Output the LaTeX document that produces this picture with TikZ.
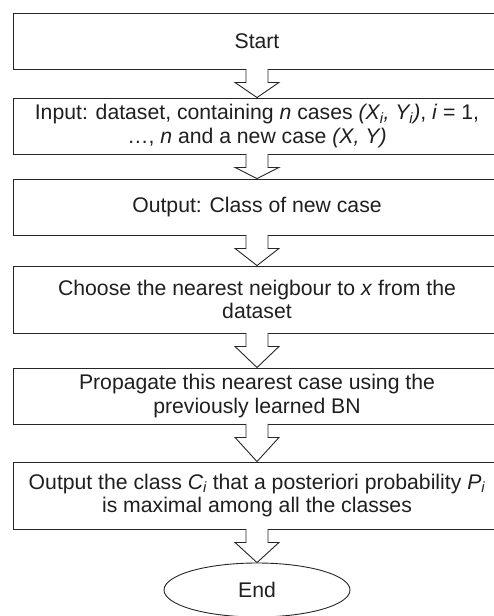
\documentclass[tikz,border=0pt]{standalone}
\usepackage{fontspec}
\setmainfont{Liberation Sans}
\usetikzlibrary{shapes.geometric,calc}
\tikzset{
  stepbox/.style={draw=black!85, line width=0.9pt, fill=white, rectangle,
    minimum width=488pt, inner sep=0pt, align=center, text=black!88,
    font=\fontsize{21.2}{23.5}\selectfont},
  endnode/.style={draw=black!85, line width=0.9pt, fill=white, ellipse,
    minimum width=186pt, minimum height=54pt, inner sep=0pt, text=black!88,
    font=\fontsize{21.2}{23.5}\selectfont},
  blockarrow/.style={draw=black!85, line width=0.9pt, fill=white, line join=miter}
}
\newcommand\flowarrow[2]{%
  \path[blockarrow] let \p1=(#1.south), \p2=(#2.north) in
    (\x1-11pt,\y1+0.6pt) -- (\x1-11pt,\y1-13pt) -- (\x1-22pt,\y1-13pt)
    -- (\x2,\y2) -- (\x1+22pt,\y1-13pt) -- (\x1+11pt,\y1-13pt) -- (\x1+11pt,\y1+0.6pt);}
\begin{document}
\begin{tikzpicture}[x=1pt,y=-1pt]
\useasboundingbox (0,0) rectangle (494,616);
\clip (0,0) rectangle (494,616);
\fill[white] (0,0) rectangle (494,616);
\node[stepbox, minimum height=56pt] (start) at (257,41) {Start};
\node[stepbox, minimum height=56pt] (input) at (257,126)
  {Input: dataset, containing \textit{n} cases \textit{(X\textsubscript{i}, Y\textsubscript{i})}, \textit{i} = 1,\\
   \dots, \textit{n} and a new case \textit{(X, Y)}};
\node[stepbox, minimum height=56pt] (output) at (257,207) {Output: Class of new case};
\node[stepbox, minimum height=67pt] (choose) at (257,299.5)
  {Choose the nearest neigbour to \textit{x} from the\\dataset};
\node[stepbox, minimum height=56pt] (prop) at (257,396)
  {Propagate this nearest case using the\\previously learned BN};
\node[stepbox, minimum height=67pt] (class) at (257,495.5)
  {Output the class \textit{C\textsubscript{i}} that a posteriori probability \textit{P\textsubscript{i}}\\
   is maximal among all the classes};
\node[endnode] (end) at (257,590) {End};
\flowarrow{start}{input}
\flowarrow{input}{output}
\flowarrow{output}{choose}
\flowarrow{choose}{prop}
\flowarrow{prop}{class}
\flowarrow{class}{end}
\end{tikzpicture}
\end{document}
